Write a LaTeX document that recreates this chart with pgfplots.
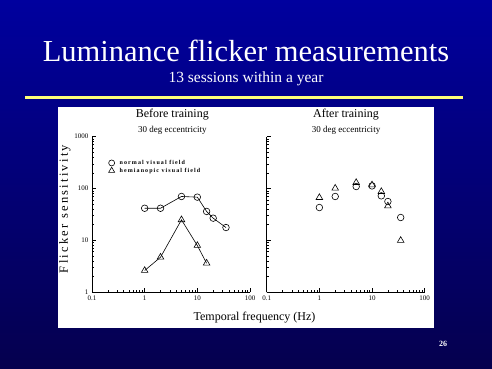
\documentclass[border=0pt]{standalone}
\usepackage{fontspec}
\setmainfont{Liberation Serif}
\usepackage{pgfplots}
\pgfplotsset{compat=1.18}
\definecolor{bgtop}{RGB}{0,0,158}
\definecolor{bgbot}{RGB}{5,0,78}
\definecolor{rule}{RGB}{255,255,120}
\newfontfamily\legfont[LetterSpace=18]{Liberation Serif}
\newfontfamily\ylabfont[LetterSpace=18]{Liberation Serif}
\begin{document}
\begin{tikzpicture}
\shade[top color=bgtop, bottom color=bgbot] (0pt,0pt) rectangle (492pt,369pt);
\fill[white] (58pt,41pt) rectangle (434pt,262pt);
\draw[line width=3pt, rule] (25pt,271pt) -- (463pt,271pt);
\node[white, font=\fontsize{30.5}{32}\selectfont] at (246pt,318pt) {Luminance flicker measurements};
\node[white, font=\fontsize{15.5}{17}\selectfont] at (246pt,290.5pt) {13 sessions within a year};
\node[white, font=\bfseries\fontsize{8}{9}\selectfont] at (443pt,25pt) {26};
\node[font=\fontsize{12}{14}\selectfont] at (172.3pt,254pt) {Before training};
\node[font=\fontsize{9}{10}\selectfont] at (172.3pt,238.5pt) {30 deg eccentricity};
\node[font=\fontsize{12}{14}\selectfont] at (346pt,254pt) {After training};
\node[font=\fontsize{9}{10}\selectfont] at (346pt,238.5pt) {30 deg eccentricity};
\node[font=\fontsize{12}{14}\selectfont] at (254.5pt,51pt) {Temporal frequency (Hz)};
\node[rotate=90, font=\ylabfont\fontsize{12.5}{14}\selectfont] at (65pt,160pt) {Flicker sensitivity};

\begin{axis}[at={(92pt,77pt)}, anchor=south west,
  scale only axis, width=158pt, height=155.3pt,
  xmode=log, ymode=log, xmin=0.1, xmax=100, ymin=1, ymax=1000,
  axis x line*=bottom, axis y line*=left, axis line style={-, line width=0.6pt},
  tick align=inside, major tick length=4pt, minor tick length=2.3pt,
  tick style={black, line width=0.5pt},
  ticklabel style={font=\fontsize{7}{8}\selectfont},
  /pgf/number format/assume math mode=true,
  xtick={0.1,1,10,100}, xticklabels={0.1,1,10,100},
  ytick={1,10,100,1000}, yticklabels={1,10,100,1000},
  clip=false,
  legend style={at={(rel axis cs:0.085,0.87)}, anchor=north west, draw=none, fill=none,
    font=\legfont\bfseries\fontsize{6}{7}\selectfont,
    row sep=0pt, nodes={inner sep=1pt},
    /tikz/every odd column/.append style={column sep=4pt}},
  legend cell align=left]
\addlegendimage{only marks, mark=o, mark size=3pt, black, mark options={line width=0.6pt}}
\addlegendimage{only marks, mark=triangle, mark size=3.5pt, black, mark options={line width=0.6pt}}
\legend{normal visual field, hemianopic visual field}
\addplot[black, line width=0.6pt, mark=o, mark size=3.3pt, mark options={fill=white}]
  coordinates {(1,41.5)(2,41.5)(5,70)(10,68)(15,36)(20,26.7)(35,17.6)};
\addplot[black, line width=0.6pt, mark=triangle, mark size=3.8pt, mark options={fill=white}]
  coordinates {(1,2.6)(2,4.7)(5,24.8)(10,7.9)(15,3.6)};
\end{axis}

\begin{axis}[at={(266.7pt,77pt)}, anchor=south west,
  scale only axis, width=158pt, height=155.3pt,
  xmode=log, ymode=log, xmin=0.1, xmax=100, ymin=1, ymax=1000,
  axis x line*=bottom, axis y line*=left, axis line style={-, line width=0.6pt},
  tick align=inside, major tick length=4pt, minor tick length=2.3pt,
  tick style={black, line width=0.5pt},
  ticklabel style={font=\fontsize{7}{8}\selectfont},
  /pgf/number format/assume math mode=true,
  xtick={0.1,1,10,100}, xticklabels={0.1,1,10,100},
  ytick={1,10,100,1000}, yticklabels={},
  clip=false]
\addplot[black, only marks, line width=0.6pt, mark=o, mark size=3.3pt]
  coordinates {(1,42.8)(2,70)(5,109)(10,112)(15,72)(20,56)(35,27.5)};
\addplot[black, only marks, line width=0.6pt, mark=triangle, mark size=3.8pt]
  coordinates {(1,66.7)(2,101)(5,130)(10,117)(15,87)(20,46)(35,9.9)};
\end{axis}
\end{tikzpicture}
\end{document}
